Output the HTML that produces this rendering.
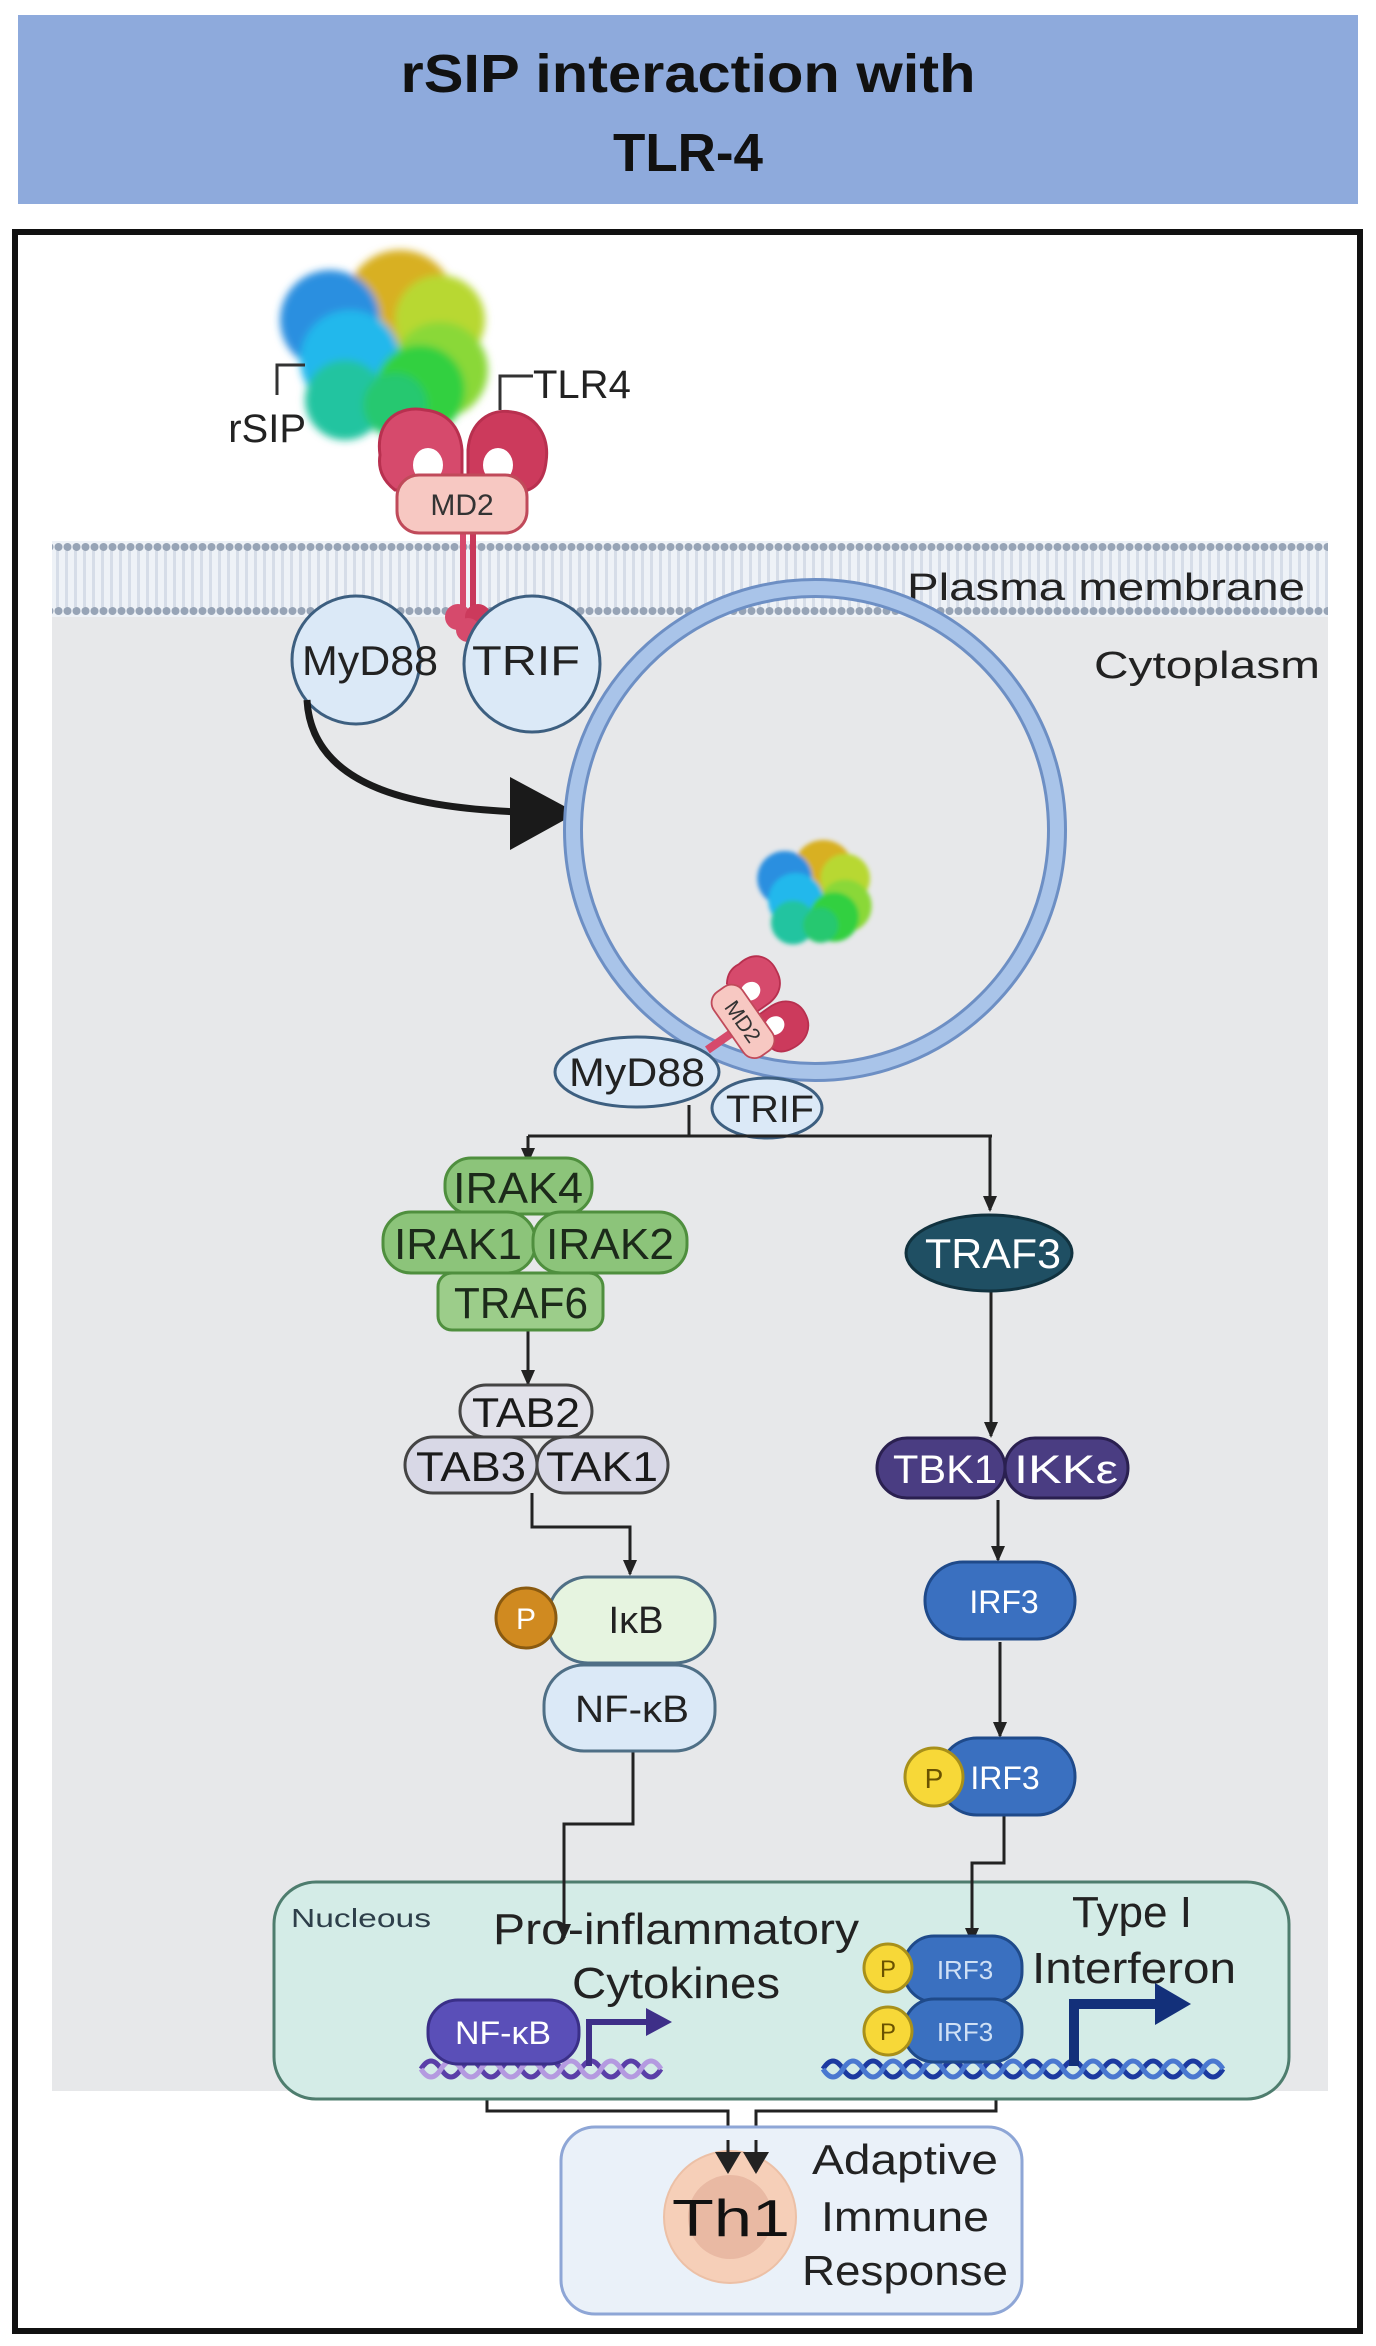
<!DOCTYPE html>
<html><head><meta charset="utf-8"><style>
html,body{margin:0;padding:0;background:#fff}
svg{display:block}
text{font-family:"Liberation Sans",Arial,sans-serif}
</style></head><body>
<svg width="1376" height="2346" viewBox="0 0 1376 2346" xmlns="http://www.w3.org/2000/svg">
<defs>
<marker id="ah" markerWidth="16" markerHeight="16" refX="14" refY="8" orient="auto" markerUnits="userSpaceOnUse" viewBox="0 0 16 16"><path d="M0,1 L16,8 L0,15 z" fill="#222"/></marker>
<marker id="ahb" markerWidth="22" markerHeight="26" refX="20" refY="13" orient="auto" markerUnits="userSpaceOnUse" viewBox="0 0 22 26"><path d="M0,0 L22,13 L0,26 z" fill="#222"/></marker>
<pattern id="mem" x="0" y="541" width="9" height="76" patternUnits="userSpaceOnUse">
<rect width="9" height="76" fill="#eef2f7"/>
<rect x="2" y="10" width="3" height="56" fill="#d6dde8"/>
<circle cx="4.5" cy="6" r="4" fill="#97a4b6"/>
<circle cx="4.5" cy="70" r="4" fill="#97a4b6"/>
</pattern>
<filter id="bl" x="-10%" y="-10%" width="120%" height="120%"><feGaussianBlur stdDeviation="4"/></filter>
</defs>
<!-- header -->
<rect x="18" y="15" width="1340" height="189" fill="#8eaadc"/>
<text x="688" y="92" font-size="54" font-weight="bold" text-anchor="middle" fill="#111" textLength="575" lengthAdjust="spacingAndGlyphs">rSIP interaction with</text>
<text x="688" y="171" font-size="54" font-weight="bold" text-anchor="middle" fill="#111" textLength="150" lengthAdjust="spacingAndGlyphs">TLR-4</text>
<!-- frame -->
<rect x="15" y="232" width="1345" height="2099" fill="#fff" stroke="#111" stroke-width="6"/>
<!-- cytoplasm -->
<rect x="52" y="612" width="1276" height="1479" fill="#e7e8ea"/>
<rect x="52" y="541" width="1276" height="76" fill="url(#mem)"/>
<text x="1305" y="600" font-size="38" text-anchor="end" fill="#222" textLength="398" lengthAdjust="spacingAndGlyphs">Plasma membrane</text>
<text x="1320" y="678" font-size="38" text-anchor="end" fill="#222" textLength="226" lengthAdjust="spacingAndGlyphs">Cytoplasm</text>

<!-- top blob -->
<g filter="url(#bl)">
<circle cx="400" cy="305" r="55" fill="#d8b020"/>
<circle cx="440" cy="320" r="45" fill="#b8d830"/>
<circle cx="330" cy="320" r="50" fill="#2a8fe0"/>
<circle cx="440" cy="370" r="48" fill="#8ad838"/>
<circle cx="350" cy="360" r="50" fill="#22b8ec"/>
<circle cx="420" cy="390" r="45" fill="#30d040"/>
<circle cx="345" cy="400" r="40" fill="#20c4a0"/>
<circle cx="395" cy="405" r="32" fill="#28c870"/>
</g>
<!-- brackets -->
<path d="M277,395 V365 H305" fill="none" stroke="#333" stroke-width="3"/>
<text x="306" y="442" font-size="40" text-anchor="end" fill="#222">rSIP</text>
<path d="M500,410 V376 H533" fill="none" stroke="#333" stroke-width="3"/>
<text x="533" y="398" font-size="40" fill="#222">TLR4</text>
<!-- receptor top -->
<g>
<path d="M380,455 C375,420 400,405 425,410 C445,412 460,425 462,450 L462,490 L395,490 C382,480 378,468 380,455 Z" fill="#d64a6c" stroke="#b8304f" stroke-width="3"/>
<path d="M468,450 C470,422 490,408 512,412 C535,415 550,435 546,462 C544,480 535,490 520,492 L468,492 Z" fill="#cc3a5c" stroke="#b8304f" stroke-width="3"/>
<ellipse cx="428" cy="465" rx="15" ry="17" fill="#fff"/>
<ellipse cx="498" cy="465" rx="15" ry="17" fill="#fff"/>
<rect x="460" y="530" width="6" height="80" fill="#d64a6c"/>
<rect x="470" y="530" width="6" height="80" fill="#c8385a"/>
<circle cx="458" cy="617" r="13" fill="#d64a6c"/>
<circle cx="478" cy="617" r="13" fill="#cc3a5c"/>
<circle cx="468" cy="630" r="12" fill="#d64a6c"/>
<rect x="397" y="475" width="130" height="58" rx="22" fill="#f7c8c2" stroke="#c04a5a" stroke-width="3"/>
</g>
<text x="462" y="515" font-size="30" text-anchor="middle" fill="#333">MD2</text>

<!-- MyD88 / TRIF top -->
<circle cx="356" cy="660" r="64" fill="#dbe9f7" stroke="#3d5f80" stroke-width="3"/>
<circle cx="532" cy="664" r="68" fill="#dbe9f7" stroke="#3d5f80" stroke-width="3"/>
<text x="370" y="675" font-size="42" text-anchor="middle" fill="#222" textLength="136" lengthAdjust="spacingAndGlyphs">MyD88</text>
<text x="526" y="675" font-size="42" text-anchor="middle" fill="#222" textLength="108" lengthAdjust="spacingAndGlyphs">TRIF</text>
<!-- curved arrow -->
<path d="M307,700 C312,790 420,808 520,812" fill="none" stroke="#1a1a1a" stroke-width="7"/>
<path d="M510,777 L577,813 L510,850 Z" fill="#1a1a1a"/>

<!-- vesicle -->
<circle cx="815" cy="830" r="242" fill="none" stroke="#6d8fc4" stroke-width="20"/>
<circle cx="815" cy="830" r="242" fill="none" stroke="#a9c4e9" stroke-width="14"/>
<!-- inner blob -->
<g filter="url(#bl)" transform="translate(815,895) scale(0.55) translate(-385,-350)">
<circle cx="400" cy="305" r="55" fill="#d8b020"/>
<circle cx="440" cy="320" r="45" fill="#b8d830"/>
<circle cx="330" cy="320" r="50" fill="#2a8fe0"/>
<circle cx="440" cy="370" r="48" fill="#8ad838"/>
<circle cx="350" cy="360" r="50" fill="#22b8ec"/>
<circle cx="420" cy="390" r="45" fill="#30d040"/>
<circle cx="345" cy="400" r="40" fill="#20c4a0"/>
<circle cx="395" cy="405" r="32" fill="#28c870"/>
</g>
<g transform="translate(745,1020) rotate(55) scale(0.6) translate(-462,-500)">
<path d="M380,455 C375,420 400,405 425,410 C445,412 460,425 462,450 L462,490 L395,490 C382,480 378,468 380,455 Z" fill="#d64a6c" stroke="#b8304f" stroke-width="3"/>
<path d="M468,450 C470,422 490,408 512,412 C535,415 550,435 546,462 C544,480 535,490 520,492 L468,492 Z" fill="#cc3a5c" stroke="#b8304f" stroke-width="3"/>
<ellipse cx="428" cy="465" rx="15" ry="17" fill="#fff"/>
<ellipse cx="498" cy="465" rx="15" ry="17" fill="#fff"/>
<rect x="460" y="530" width="14" height="50" fill="#d64a6c"/>
<rect x="397" y="475" width="130" height="58" rx="22" fill="#f7c8c2" stroke="#c04a5a" stroke-width="3"/>
<text x="462" y="517" font-size="36" text-anchor="middle" fill="#333">MD2</text>
</g>
<!-- inner MyD88/TRIF -->
<ellipse cx="637" cy="1072" rx="82" ry="35" fill="#dbe9f7" stroke="#3d5f80" stroke-width="3"/>
<ellipse cx="767" cy="1108" rx="55" ry="30" fill="#dbe9f7" stroke="#3d5f80" stroke-width="3"/>
<text x="637" y="1086" font-size="40" text-anchor="middle" fill="#222" textLength="136" lengthAdjust="spacingAndGlyphs">MyD88</text>
<text x="770" y="1122" font-size="38" text-anchor="middle" fill="#222" textLength="88" lengthAdjust="spacingAndGlyphs">TRIF</text>

<!-- branch -->
<g stroke="#222" stroke-width="3" fill="none">
<path d="M689,1105 V1136 M528,1136 H992"/>
<path d="M528,1136 V1162" marker-end="url(#ah)"/>
<path d="M990,1136 V1210" marker-end="url(#ah)"/>
<path d="M528,1330 V1384" marker-end="url(#ah)"/>
<path d="M532,1493 V1527 H630 V1574" marker-end="url(#ah)"/>
<path d="M633,1720 V1824 H564 V1922" marker-end="url(#ah)"/>
<path d="M991,1292 V1436" marker-end="url(#ah)"/>
<path d="M998,1500 V1560" marker-end="url(#ah)"/>
<path d="M1000,1642 V1736" marker-end="url(#ah)"/>
<path d="M1004,1815 V1863 H972 V1932" marker-end="url(#ah)"/>
<path d="M487,2072 V2111 H728 V2172" marker-end="url(#ahb)"/>
<path d="M996,2072 V2111 H756 V2172" marker-end="url(#ahb)"/>
</g>

<!-- IRAK complex -->
<g stroke="#4f8f3e" stroke-width="3" fill="#8cc47a">
<rect x="445" y="1158" width="147" height="56" rx="26"/>
<rect x="383" y="1212" width="152" height="61" rx="28"/>
<rect x="533" y="1212" width="154" height="61" rx="28"/>
<rect x="438" y="1273" width="165" height="57" rx="14" fill="#9ccd8a"/>
</g>
<g font-size="44" text-anchor="middle" fill="#1c2a1a">
<text x="518" y="1203" textLength="130" lengthAdjust="spacingAndGlyphs">IRAK4</text>
<text x="458" y="1259" textLength="128" lengthAdjust="spacingAndGlyphs">IRAK1</text>
<text x="610" y="1259" textLength="128" lengthAdjust="spacingAndGlyphs">IRAK2</text>
<text x="521" y="1318" textLength="134" lengthAdjust="spacingAndGlyphs">TRAF6</text>
</g>
<!-- TAB complex -->
<g stroke="#444" stroke-width="3" fill="#e2e2ea">
<rect x="460" y="1385" width="132" height="52" rx="26"/>
<rect x="405" y="1437" width="132" height="56" rx="28" fill="#d8d8e6"/>
<rect x="537" y="1437" width="131" height="56" rx="28" fill="#d8d8e6"/>
</g>
<g font-size="42" text-anchor="middle" fill="#1a1a1a">
<text x="526" y="1427" textLength="108" lengthAdjust="spacingAndGlyphs">TAB2</text>
<text x="471" y="1481" textLength="110" lengthAdjust="spacingAndGlyphs">TAB3</text>
<text x="602" y="1481" textLength="112" lengthAdjust="spacingAndGlyphs">TAK1</text>
</g>
<!-- IkB / NF-kB -->
<rect x="548" y="1577" width="167" height="86" rx="40" fill="#e6f4e0" stroke="#4f6f86" stroke-width="3"/>
<rect x="544" y="1665" width="171" height="86" rx="40" fill="#dbe9f7" stroke="#4f6f86" stroke-width="3"/>
<circle cx="526" cy="1618" r="30" fill="#d08a20" stroke="#8a5a10" stroke-width="3"/>
<text x="526" y="1629" font-size="30" text-anchor="middle" fill="#fff">P</text>
<text x="636" y="1633" font-size="38" text-anchor="middle" fill="#222">IκB</text>
<text x="632" y="1722" font-size="38" text-anchor="middle" fill="#222" textLength="114" lengthAdjust="spacingAndGlyphs">NF-κB</text>

<!-- right branch -->
<ellipse cx="989" cy="1253" rx="83" ry="38" fill="#1f4f63" stroke="#11323f" stroke-width="3"/>
<text x="993" y="1268" font-size="42" text-anchor="middle" fill="#fff" textLength="136" lengthAdjust="spacingAndGlyphs">TRAF3</text>
<rect x="877" y="1438" width="128" height="60" rx="30" fill="#4a3d82" stroke="#2a2050" stroke-width="3"/>
<rect x="1005" y="1438" width="123" height="60" rx="30" fill="#4a3d82" stroke="#2a2050" stroke-width="3"/>
<text x="945" y="1483" font-size="40" text-anchor="middle" fill="#fff" textLength="104" lengthAdjust="spacingAndGlyphs">TBK1</text>
<text x="1066" y="1483" font-size="40" text-anchor="middle" fill="#fff" textLength="104" lengthAdjust="spacingAndGlyphs">IKKε</text>
<rect x="925" y="1562" width="150" height="77" rx="38" fill="#3a70c0" stroke="#1f4a8a" stroke-width="3"/>
<text x="1004" y="1613" font-size="32" text-anchor="middle" fill="#fff">IRF3</text>
<rect x="939" y="1738" width="136" height="77" rx="38" fill="#3a70c0" stroke="#1f4a8a" stroke-width="3"/>
<circle cx="934" cy="1777" r="29" fill="#f7d838" stroke="#a8901a" stroke-width="3"/>
<text x="934" y="1788" font-size="28" text-anchor="middle" fill="#6a5200">P</text>
<text x="1005" y="1789" font-size="32" text-anchor="middle" fill="#fff">IRF3</text>

<!-- nucleus -->
<rect x="274" y="1882" width="1015" height="217" rx="42" fill="#d4ece7" stroke="#4e7d6e" stroke-width="3"/>
<path d="M564,1880 V1938" stroke="#222" stroke-width="3" marker-end="url(#ah)"/>
<path d="M972,1880 V1942" stroke="#222" stroke-width="3" marker-end="url(#ah)"/>
<text x="291" y="1927" font-size="26" fill="#2e3f4a" textLength="140" lengthAdjust="spacingAndGlyphs">Nucleous</text>
<text x="676" y="1944" font-size="44" text-anchor="middle" fill="#222" textLength="366" lengthAdjust="spacingAndGlyphs">Pro-inflammatory</text>
<text x="676" y="1998" font-size="44" text-anchor="middle" fill="#222" textLength="208" lengthAdjust="spacingAndGlyphs">Cytokines</text>
<text x="1132" y="1927" font-size="44" text-anchor="middle" fill="#222" textLength="120" lengthAdjust="spacingAndGlyphs">Type I</text>
<text x="1134" y="1983" font-size="44" text-anchor="middle" fill="#222" textLength="204" lengthAdjust="spacingAndGlyphs">Interferon</text>

<!-- DNA -->
<g fill="none" stroke-width="5">
<path d="M421,2069 q10,-16 20,0 t20,0 t20,0 t20,0 t20,0 t20,0 t20,0 t20,0 t20,0 t20,0 t20,0 t20,0" stroke="#5a3fa8"/>
<path d="M421,2069 q10,16 20,0 t20,0 t20,0 t20,0 t20,0 t20,0 t20,0 t20,0 t20,0 t20,0 t20,0 t20,0" stroke="#b49ae0"/>
<path d="M823,2069 q10,-16 20,0 t20,0 t20,0 t20,0 t20,0 t20,0 t20,0 t20,0 t20,0 t20,0 t20,0 t20,0 t20,0 t20,0 t20,0 t20,0 t20,0 t20,0 t20,0 t20,0" stroke="#1c3aa0"/>
<path d="M823,2069 q10,16 20,0 t20,0 t20,0 t20,0 t20,0 t20,0 t20,0 t20,0 t20,0 t20,0 t20,0 t20,0 t20,0 t20,0 t20,0 t20,0 t20,0 t20,0 t20,0 t20,0" stroke="#4a78d0"/>
</g>
<!-- NF-kB nucleus -->
<rect x="428" y="2000" width="151" height="64" rx="30" fill="#5a4fb8" stroke="#3a2f88" stroke-width="3"/>
<text x="503" y="2044" font-size="32" text-anchor="middle" fill="#fff" textLength="96" lengthAdjust="spacingAndGlyphs">NF-κB</text>
<path d="M589,2066 V2022 H648" fill="none" stroke="#3e2f88" stroke-width="6"/>
<path d="M646,2008 L672,2022 L646,2036 Z" fill="#3e2f88"/>
<!-- IRF3 dimer -->
<rect x="904" y="1936" width="118" height="66" rx="30" fill="#3a70c0" stroke="#1f4a8a" stroke-width="3"/>
<rect x="904" y="1999" width="118" height="63" rx="30" fill="#3a70c0" stroke="#1f4a8a" stroke-width="3"/>
<circle cx="888" cy="1968" r="24" fill="#f7d838" stroke="#a8901a" stroke-width="3"/>
<circle cx="888" cy="2031" r="24" fill="#f7d838" stroke="#a8901a" stroke-width="3"/>
<text x="888" y="1977" font-size="24" text-anchor="middle" fill="#6a5200">P</text>
<text x="888" y="2040" font-size="24" text-anchor="middle" fill="#6a5200">P</text>
<text x="965" y="1979" font-size="26" text-anchor="middle" fill="#cfe0f5">IRF3</text>
<text x="965" y="2041" font-size="26" text-anchor="middle" fill="#cfe0f5">IRF3</text>
<path d="M1074,2066 V2004 H1160" fill="none" stroke="#13307a" stroke-width="10"/>
<path d="M1155,1983 L1191,2004 L1155,2025 Z" fill="#13307a"/>

<!-- Th1 box -->
<rect x="561" y="2127" width="461" height="187" rx="34" fill="#eaf1f9" stroke="#8ea6d6" stroke-width="3"/>
<circle cx="730" cy="2217" r="66" fill="#f6cfb8" stroke="#ecc0a6" stroke-width="2"/>
<circle cx="730" cy="2217" r="42" fill="#e9b9a3"/>
<path d="M728,2140 V2172" stroke="#222" stroke-width="3" marker-end="url(#ahb)"/>
<path d="M756,2140 V2172" stroke="#222" stroke-width="3" marker-end="url(#ahb)"/>
<text x="731" y="2236" font-size="52" text-anchor="middle" fill="#111" textLength="118" lengthAdjust="spacingAndGlyphs">Th1</text>
<text x="905" y="2174" font-size="42" text-anchor="middle" fill="#222" textLength="186" lengthAdjust="spacingAndGlyphs">Adaptive</text>
<text x="905" y="2231" font-size="42" text-anchor="middle" fill="#222" textLength="168" lengthAdjust="spacingAndGlyphs">Immune</text>
<text x="905" y="2285" font-size="42" text-anchor="middle" fill="#222" textLength="206" lengthAdjust="spacingAndGlyphs">Response</text>
</svg>
</body></html>
